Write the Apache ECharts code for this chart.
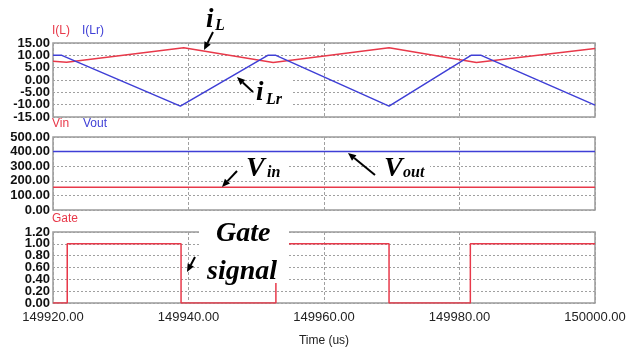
<!DOCTYPE html>
<html>
<head>
<meta charset="utf-8">
<script src="https://cdn.jsdelivr.net/npm/echarts@6/dist/echarts.min.js"></script>
<style>
html, body { margin: 0; padding: 0; background: #fff; }
#chart { width: 634px; height: 348px; }
</style>
</head>
<body>
<div id="chart"></div>
<script>
// waveform data (time in us)
var iLTime = [149920, 149922, 149939.3, 149952.5, 149969.6, 149982.5, 150000];
var iLVal = [7.6, 7.2, 13.1, 7.1, 13.1, 7.1, 12.8];

var iLrTime = [149920, 149921.3, 149938.8, 149951.7, 149952.9, 149969.6, 149981.7, 149983.2, 150000];
var iLrVal = [10, 10, -10.6, 10, 10, -10.6, 10, 10, -10.2];

var vTime = [149920, 150000];
var vinVal = [155, 155];
var voutVal = [400, 400];

var gateTime = [149920, 149922.1, 149922.1, 149938.9, 149938.9, 149952.9, 149952.9, 149969.6, 149969.6, 149981.6, 149981.6, 150000];
var gateVal = [0, 0, 1, 1, 0, 0, 1, 1, 0, 0, 1, 1];

var RED = '#e8394a';
var BLUE = '#3f3fd6';

function zip(t, v) {
    var out = [];
    for (var i = 0; i < t.length; i++) out.push([t[i], v[i]]);
    return out;
}

var chart = echarts.init(document.getElementById('chart'));

var gridBase = { left: 53, right: 39, show: true, borderColor: '#9a9a9a', borderWidth: 1.5, backgroundColor: '#fff' };

function xAx(idx, labels) {
    return {
        type: 'value', gridIndex: idx, min: 149920, max: 150000, interval: 20,
        axisLine: { show: false }, axisTick: { show: false },
        splitLine: { show: true, lineStyle: { color: '#a0a0a0', type: [3, 2], width: 1 } },
        axisLabel: {
            show: labels, margin: 8, color: '#222', fontSize: 13, fontFamily: 'Liberation Sans',
            showMinLabel: true, showMaxLabel: true,
            formatter: function (v) { return v.toFixed(2); }
        },
        name: labels ? 'Time (us)' : '', nameLocation: 'middle', nameGap: 32,
        nameTextStyle: { color: '#222', fontSize: 12, fontFamily: 'Liberation Sans' }
    };
}

var yLabel = {
    margin: 3, color: '#111', fontSize: 13, fontWeight: 'bold', fontFamily: 'Liberation Sans',
    hideOverlap: false,
    formatter: function (v) { return v.toFixed(2); }
};

// inner ticks: labels between the ends, with grid lines
function yAx(idx, min, max, step) {
    return {
        type: 'value', gridIndex: idx, min: min, max: max, interval: step,
        axisLine: { show: false }, axisTick: { show: false },
        splitLine: { show: true, lineStyle: { color: '#a0a0a0', type: [2, 2], width: 1 } },
        axisLabel: Object.assign({ showMinLabel: false, showMaxLabel: false }, yLabel)
    };
}

// end ticks: only the min and max labels
function yEnds(idx, min, max) {
    return {
        type: 'value', gridIndex: idx, position: 'left', min: min, max: max, interval: max - min,
        axisLine: { show: false }, axisTick: { show: false }, splitLine: { show: false },
        axisLabel: Object.assign({ showMinLabel: true, showMaxLabel: true }, yLabel)
    };
}

function line(name, x, y, data, color) {
    return {
        name: name, type: 'line', xAxisIndex: x, yAxisIndex: y, data: data,
        symbol: 'none', lineStyle: { color: color, width: 1.5 }, itemStyle: { color: color }
    };
}

function arrow(x1, y1, x2, y2) {
    var a = Math.atan2(y2 - y1, x2 - x1), L = 8, W = 3.5;
    var bx = x2 - L * Math.cos(a), by = y2 - L * Math.sin(a);
    var px = -Math.sin(a) * W, py = Math.cos(a) * W;
    return [
        { type: 'line', z: 100, shape: { x1: x1, y1: y1, x2: bx, y2: by }, style: { stroke: '#000', lineWidth: 2 } },
        { type: 'polygon', z: 100, shape: { points: [[x2, y2], [bx + px, by + py], [bx - px, by - py]] }, style: { fill: '#000' } }
    ];
}

function txt(x, y, s, size, color, font) {
    return {
        type: 'text', z: 101, x: x, y: y,
        style: { text: s, fill: color, font: font || (size + 'px "Liberation Sans"'), verticalAlign: 'top' }
    };
}

function big(x, y, s, size) {
    return txt(x, y, s, size, '#000', 'italic bold ' + size + 'px "Liberation Serif"');
}

function whiteBox(x, y, w, h) {
    return { type: 'rect', z: 99, shape: { x: x, y: y, width: w, height: h }, style: { fill: '#fff' } };
}

var graphics = [
    txt(52, 25, 'I(L)', 12, RED), txt(82, 25, 'I(Lr)', 12, BLUE),
    txt(52, 118, 'Vin', 12, RED), txt(83, 118, 'Vout', 12, BLUE),
    txt(52, 213, 'Gate', 12, RED),
    whiteBox(254, 77, 38, 31),
    whiteBox(243, 156, 44, 25),
    whiteBox(378, 156, 52, 25),
    whiteBox(199, 219, 90, 64),
    big(206, 7, 'i', 27), big(215, 18, 'L', 16),
    big(256, 80, 'i', 27), big(266, 92, 'Lr', 16),
    big(246, 155, 'V', 28), big(267, 165, 'in', 16),
    big(384, 155, 'V', 28), big(403, 165, 'out', 16),
    big(216, 220, 'Gate', 28), big(207, 258, 'signal', 28)
];
graphics = graphics
    .concat(arrow(213, 32, 204, 50))
    .concat(arrow(253, 92, 237, 77))
    .concat(arrow(237, 171, 222, 187))
    .concat(arrow(375, 175, 348, 153))
    .concat(arrow(195, 257, 187, 272));

var option = {
    animation: false,
    backgroundColor: '#fff',
    grid: [
        Object.assign({ top: 43, height: 74 }, gridBase),
        Object.assign({ top: 137, height: 73 }, gridBase),
        Object.assign({ top: 232, height: 72 }, gridBase)
    ],
    xAxis: [xAx(0, false), xAx(1, false), xAx(2, true)],
    yAxis: [
        yAx(0, -15, 15, 5), yEnds(0, -15, 15),
        yAx(1, 0, 500, 100), yEnds(1, 0, 500),
        yAx(2, 0, 1.2, 0.2), yEnds(2, 0, 1.2)
    ],
    series: [
        line('I(L)', 0, 0, zip(iLTime, iLVal), RED),
        line('I(Lr)', 0, 0, zip(iLrTime, iLrVal), BLUE),
        line('Vin', 1, 2, zip(vTime, vinVal), RED),
        line('Vout', 1, 2, zip(vTime, voutVal), BLUE),
        line('Gate', 2, 4, zip(gateTime, gateVal), RED)
    ],
    graphic: graphics
};

chart.setOption(option);
</script>
</body>
</html>
